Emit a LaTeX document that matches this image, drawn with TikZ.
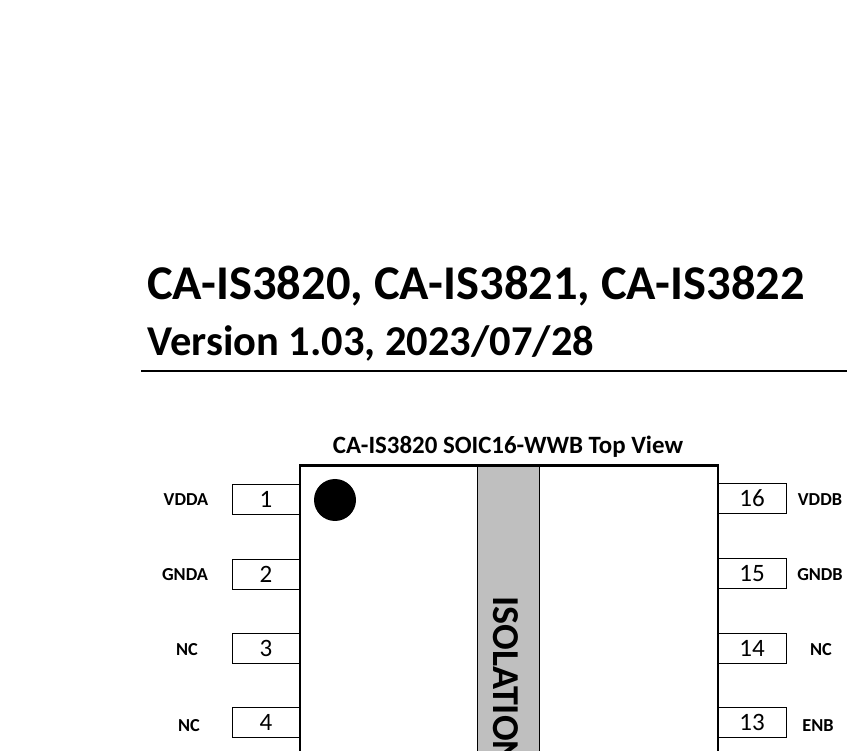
\documentclass[tikz,border=0pt]{standalone}
\usepackage{fontspec}
\setmainfont{Carlito}
\usetikzlibrary{positioning}
\tikzset{
	pinbox/.style={draw, line width=0.8pt, minimum width=68pt, minimum height=30pt, inner sep=0pt, font=\fontsize{25pt}{25pt}\selectfont},
	pinname/.style={inner sep=0pt, font=\fontsize{18.3pt}{18.3pt}\selectfont\bfseries}
}
\begin{document}
\begin{tikzpicture}[x=1pt, y=-1pt]
	\useasboundingbox (0,0) rectangle (847,751);
	\begin{scope}
	\clip (0,0) rectangle (847,751);
	% heading
	\node[anchor=west, inner sep=0pt, font=\fontsize{48.5pt}{48.5pt}\selectfont\bfseries] (title) at (147,286) {CA-IS3820, CA-IS3821, CA-IS3822};
	\node[anchor=west, inner sep=0pt, font=\fontsize{42.5pt}{42.5pt}\selectfont\bfseries] (version) at (147,343) {Version 1.03, 2023/07/28};
	\draw[line width=2.2pt] (141,371) -- (847,371);
	\node[inner sep=0pt, font=\fontsize{24.9pt}{24.9pt}\selectfont\bfseries] (view) at (508,447) {CA-IS3820 SOIC16-WWB Top View};
	% package
	\fill[black!25] (477,466) rectangle (539,800);
	\draw[line width=0.8pt] (477,466) -- (477,800) (539,466) -- (539,800);
	\node[rotate=-90, anchor=west, inner sep=0pt, font=\fontsize{38pt}{38pt}\selectfont\bfseries] (iso) at (506,596) {ISOLATION};
	\fill (335,500) circle (21);
	% pins
	\foreach \y/\ny/\num/\name/\nx in {499/500/1/VDDA/186, 574/575/2/GNDA/185, 648.5/650/3/NC/187, 722.5/725.5/4/NC/189} {
		\node[pinbox] (l\num) at (266,\y) {\num};
		\node[pinname] (ln\num) at (\nx,\ny) {\name};
	}
	\foreach \y/\ny/\num/\name/\nx in {498.5/500/16/VDDB/820, 573.5/575/15/GNDB/820, 648.5/650/14/NC/821, 722.5/725.5/13/ENB/818} {
		\node[pinbox] (r\num) at (752,\y) {\num};
		\node[pinname] (rn\num) at (\nx,\ny) {\name};
	}
	\draw[line width=2.2pt] (300,800) -- (300,465.5) -- (718,465.5) -- (718,800);
	\end{scope}
\end{tikzpicture}
\end{document}
